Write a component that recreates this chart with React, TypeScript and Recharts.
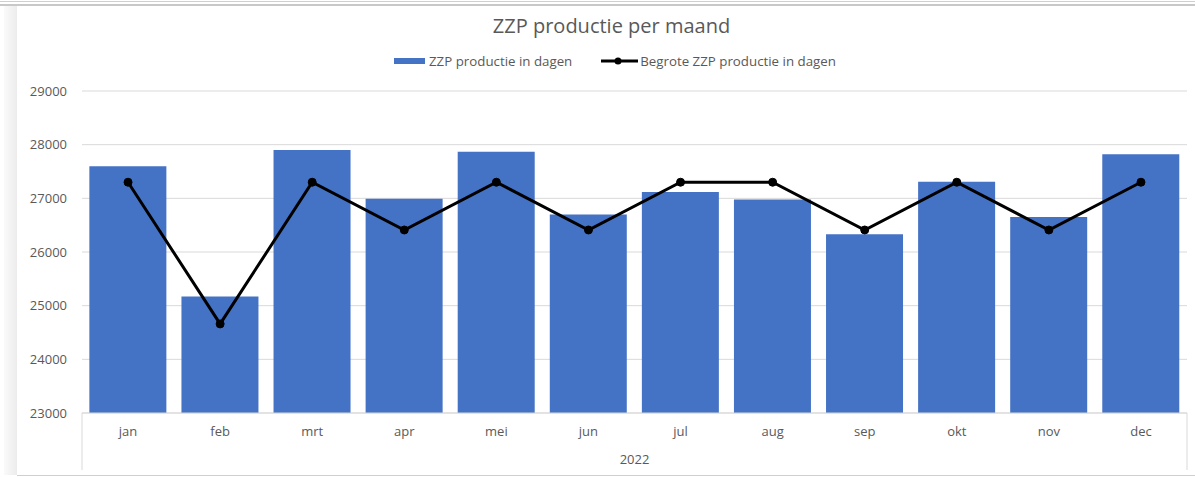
import { ComposedChart, Bar, Line, XAxis, YAxis, CartesianGrid, Legend } from 'recharts';

const months = ['jan', 'feb', 'mrt', 'apr', 'mei', 'jun', 'jul', 'aug', 'sep', 'okt', 'nov', 'dec'];
const productie = [27600, 25170, 27900, 26990, 27870, 26700, 27120, 26980, 26330, 27310, 26650, 27820];
const begroot = [27300, 24660, 27300, 26410, 27300, 26410, 27300, 27300, 26410, 27300, 26410, 27300];
const yTicks = [23000, 24000, 25000, 26000, 27000, 28000, 29000];
const year = '2022';

const data = months.map((m, i) => ({ maand: m, productie: productie[i], begroot: begroot[i] }));

const W = 1195;
const H = 477;
const Y_W = 82;
const M = { top: 71, right: 8, bottom: 6, left: 0 };
const X_H = 58;
const HALF_BAND = (W - Y_W - M.right) / months.length / 2;
const TEXT = '#595959';
const GRID = '#d9d9d9';
const FONT = '"Open Sans", sans-serif';

// month label + the outer group separators of the 2-level axis
function MonthTick(props: any) {
    const { x, y, payload, index } = props;
    const last = index === months.length - 1;
    return (
        <g>
            <text x={x} y={y + 18} textAnchor="middle" dominantBaseline="central" fill={TEXT} fontSize={13} fontFamily={FONT}>
                {payload.value}
            </text>
            {index === 0 && <line x1={x - HALF_BAND} x2={x - HALF_BAND} y1={y} y2={y + 57} stroke={GRID} />}
            {last && <line x1={x + HALF_BAND} x2={x + HALF_BAND} y1={y} y2={y + 57} stroke={GRID} />}
        </g>
    );
}

function ChartLegend() {
    return (
        <div style={{ display: 'flex', alignItems: 'center', height: 20, paddingLeft: 394, fontFamily: FONT, fontSize: 13.3, color: TEXT }}>
            <span style={{ display: 'inline-block', width: 31, height: 6, background: '#4472C4', marginRight: 4 }} />
            <span>ZZP productie in dagen</span>
            <svg width={38} height={10} style={{ marginLeft: 29, marginRight: 1 }}>
                <line x1={0} x2={37} y1={5} y2={5} stroke="#000" strokeWidth={3} />
                <circle cx={17} cy={5} r={3.5} fill="#000" />
            </svg>
            <span>Begrote ZZP productie in dagen</span>
        </div>
    );
}

export default function App() {
    return (
        <div style={{ position: 'absolute', left: 0, top: 0, width: W, height: H, background: '#fff', fontFamily: FONT, overflow: 'hidden' }}>
            {/* window frame bits */}
            <div style={{ position: 'absolute', left: 0, top: 1, width: W, height: 1, background: '#cfcfcf' }} />
            <div style={{ position: 'absolute', left: 0, top: 4, width: W, height: 2, background: '#c8c8c8' }} />
            <div style={{ position: 'absolute', left: 4, top: 6, width: 13, height: H - 8, background: 'linear-gradient(to right, #fafafa, #ececec)' }} />
            <div style={{ position: 'absolute', left: 17, top: H - 2, width: W - 17, height: 1, background: '#cfcfcf' }} />

            <div style={{ position: 'absolute', left: 28, right: 0, top: 12, textAlign: 'center', fontSize: 20, color: TEXT }}>
                ZZP productie per maand
            </div>

            <ComposedChart width={W} height={H} data={data} margin={M} barCategoryGap="8%">
                <CartesianGrid vertical={false} stroke={GRID} />
                <Legend
                    verticalAlign="top"
                    height={20}
                    wrapperStyle={{ top: 51, left: 0, width: W }}
                    content={() => <ChartLegend />}
                />
                <XAxis
                    dataKey="maand"
                    height={X_H}
                    axisLine={{ stroke: GRID }}
                    tickLine={false}
                    tickSize={0}
                    tickMargin={0}
                    interval={0}
                    tick={<MonthTick />}
                    label={{ value: year, position: 'insideBottom', offset: 7, fill: TEXT, fontSize: 13, fontFamily: FONT }}
                />
                <YAxis
                    width={Y_W}
                    domain={[23000, 29000]}
                    ticks={yTicks}
                    axisLine={false}
                    tickLine={false}
                    tickSize={0}
                    tickMargin={15}
                    tick={{ fill: TEXT, fontSize: 13, fontFamily: FONT }}
                    allowDataOverflow
                />
                <Bar dataKey="productie" name="ZZP productie in dagen" fill="#4472C4" isAnimationActive={false} />
                <Line
                    dataKey="begroot"
                    name="Begrote ZZP productie in dagen"
                    stroke="#000"
                    strokeWidth={3}
                    dot={{ r: 4, fill: '#000', stroke: '#000', strokeWidth: 1 }}
                    activeDot={false}
                    isAnimationActive={false}
                />
            </ComposedChart>
        </div>
    );
}
